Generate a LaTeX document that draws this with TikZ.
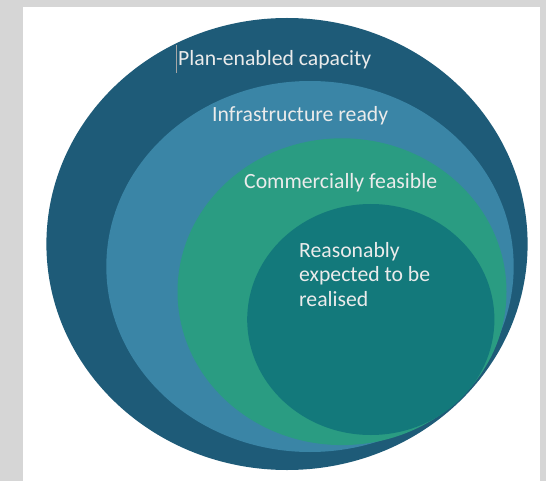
\documentclass[tikz,border=0pt]{standalone}
\usepackage{fontspec}
\setmainfont{Carlito}
\begin{document}
\begin{tikzpicture}[x=1pt,y=-1pt,
  ring/.style={draw=none},
  lbl/.style={anchor=base west,inner sep=0pt,text=white!92!black,font=\fontsize{21.7}{24.3}\selectfont,align=left}]
\definecolor{pagegray}{HTML}{D6D6D6}
\definecolor{planblue}{HTML}{1E5B78}
\definecolor{infrablue}{HTML}{3A85A6}
\definecolor{commgreen}{HTML}{2A9C82}
\definecolor{realteal}{HTML}{13797B}
\useasboundingbox (0,0) rectangle (546,481);
% page background and white sheet
\fill[pagegray] (0,0) rectangle (546,481);
\fill[white] (23,7) rectangle (540,481);
% nested regions, outermost first
\fill[ring,planblue] (287,244) ellipse [x radius=240.6, y radius=226];
\fill[ring,infrablue] (310,266.5) ellipse [x radius=203.7, y radius=185.5];
\fill[ring,commgreen] (342,291.7) ellipse [x radius=164.5, y radius=153.4];
\fill[ring,realteal] (370.8,319.5) ellipse [x radius=123.6, y radius=115.5];
% labels (a multi-line node sits on the baseline of its last line)
\node[lbl] (plan) at (178,66) {Plan-enabled capacity};
\node[lbl] (infra) at (212,122) {Infrastructure ready};
\node[lbl] (comm) at (244,189) {Commercially feasible};
\node[lbl] (real) at (299,306) {Reasonably\\expected to be\\realised};
% text caret before the first label
\draw[gray!70,line width=0.8pt] (176.5,45) -- (176.5,73);
\end{tikzpicture}
\end{document}
